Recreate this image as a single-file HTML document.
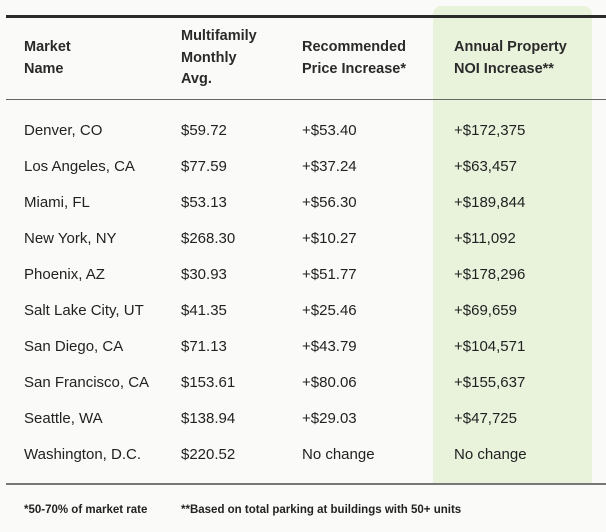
<!DOCTYPE html>
<html><head><style>
body{margin:0;width:606px;height:532px;background:#fafaf8;font-family:"Liberation Sans",sans-serif;color:#222;position:relative;overflow:hidden}
.g{position:absolute;left:433px;top:6px;width:159px;height:477px;background:#e9f3dc;border-radius:8px 8px 0 0}
.l{position:absolute;left:6px;width:600px}
.t{position:absolute;font-size:15px;white-space:nowrap}
.h{position:absolute;font-size:14.5px;font-weight:bold;line-height:21.5px;color:#2a2a2a}
.f{position:absolute;top:504px;font-size:11.5px;font-weight:bold}
</style></head><body>
<div class="g"></div>
<div class="l" style="top:15px;height:3px;background:#2a2a2a"></div>
<div class="l" style="top:99px;height:1px;background:#666"></div>
<div class="l" style="top:483px;height:2px;background:#777"></div>
<div class="h" style="left:24px;top:37px">Market<br>Name</div>
<div class="h" style="left:181px;top:26px">Multifamily<br>Monthly<br>Avg.</div>
<div class="h" style="left:302px;top:37px">Recommended<br>Price Increase*</div>
<div class="h" style="left:454px;top:37px">Annual Property<br>NOI Increase**</div>
<div id="rows"></div>
<div class="f" style="left:24px">*50-70% of market rate</div>
<div class="f" style="left:181px">**Based on total parking at buildings with 50+ units</div>
<script>
var d=[["Denver, CO","$59.72","+$53.40","+$172,375"],["Los Angeles, CA","$77.59","+$37.24","+$63,457"],["Miami, FL","$53.13","+$56.30","+$189,844"],["New York, NY","$268.30","+$10.27","+$11,092"],["Phoenix, AZ","$30.93","+$51.77","+$178,296"],["Salt Lake City, UT","$41.35","+$25.46","+$69,659"],["San Diego, CA","$71.13","+$43.79","+$104,571"],["San Francisco, CA","$153.61","+$80.06","+$155,637"],["Seattle, WA","$138.94","+$29.03","+$47,725"],["Washington, D.C.","$220.52","No change","No change"]];
var x=[24,181,302,454],h="";
d.forEach(function(r,i){r.forEach(function(c,j){h+='<div class="t" style="left:'+x[j]+'px;top:'+(122+i*36)+'px">'+c+'</div>';});});
document.getElementById("rows").innerHTML=h;
</script>
</body></html>
